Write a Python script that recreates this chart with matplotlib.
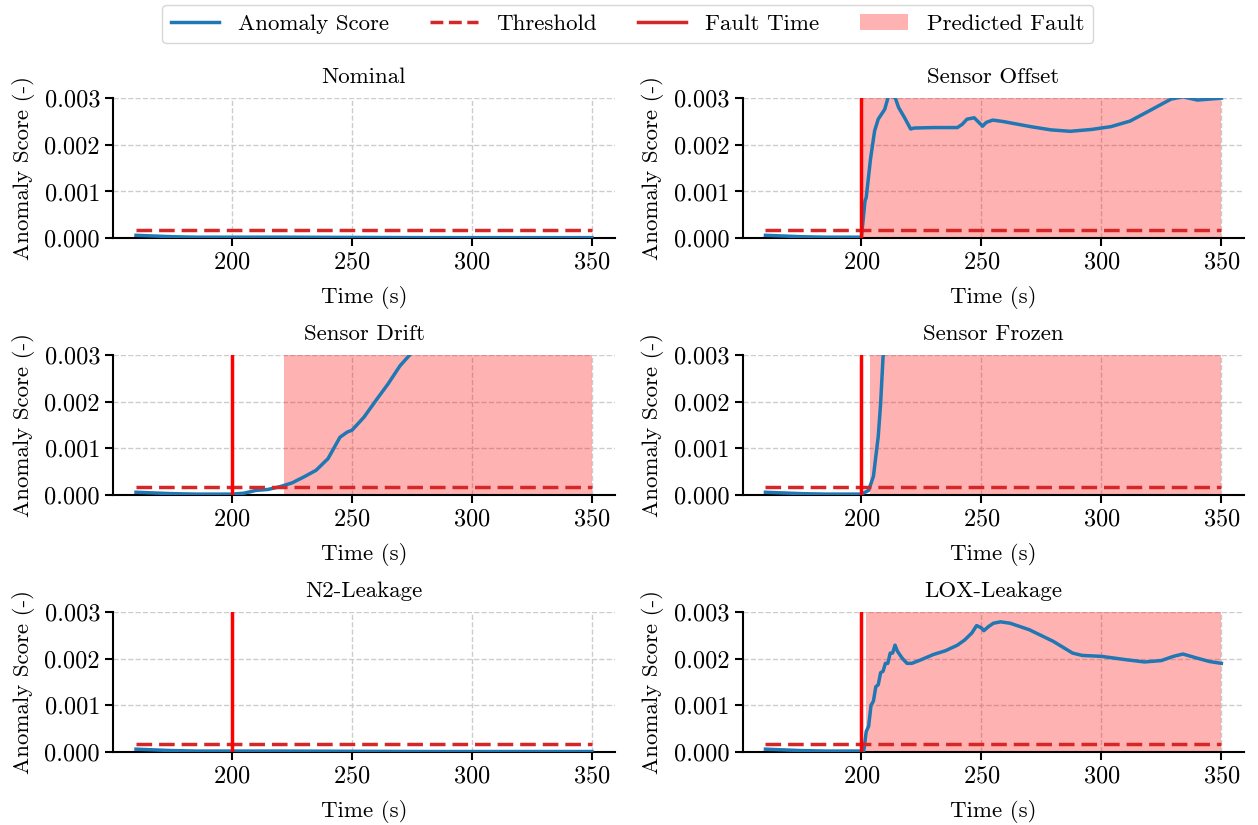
import matplotlib
matplotlib.use("Agg")
import matplotlib.pyplot as plt
from matplotlib.lines import Line2D
from matplotlib.patches import Patch

plt.rcParams["font.family"] = "serif"
plt.rcParams["font.serif"] = ["cmr10", "DejaVu Serif"]
plt.rcParams["mathtext.fontset"] = "cm"
plt.rcParams["axes.formatter.use_mathtext"] = True
plt.rcParams["font.size"] = 16.5

THRESHOLD = 0.00017
FAULT_TIME = 200
END_TIME = 350

# pre-fault part shared by all runs
pre_t = [160, 165, 170, 175, 180, 185, 190, 195, 200]
pre_s = [0.00006, 0.00005, 0.00004, 0.00003, 0.000025, 0.00002, 0.00002, 0.00002, 0.00002]

nominal_t = pre_t + [220, 250, 280, 310, 350]
nominal_s = pre_s + [0.00002, 0.000015, 0.00001, 0.00001, 0.00001]

offset_t = pre_t + [201.5, 202, 203.8, 205.5, 207, 209.7, 211.3, 214, 215.5, 218,
                    220.5, 222, 230, 240, 242, 244, 247, 250.5, 252, 254.7, 259,
                    270.5, 279, 287, 296, 304, 312, 320, 329, 334, 340, 350]
offset_s = pre_s + [0.0008, 0.00087, 0.0017, 0.0023, 0.00255, 0.00276, 0.00305, 0.00302,
                    0.0028, 0.00258, 0.00234, 0.00236, 0.00237, 0.00237, 0.00244, 0.00255,
                    0.00258, 0.0024, 0.00248, 0.00253, 0.0025, 0.00239, 0.00232, 0.00229,
                    0.00233, 0.00239, 0.00251, 0.00273, 0.00298, 0.00303, 0.00296, 0.003]

drift_t = pre_t + [205, 210, 215, 220, 225, 230, 235, 240, 245, 248, 250, 255, 260,
                   265, 270, 274, 280]
drift_s = pre_s + [0.00004, 0.0001, 0.00012, 0.00018, 0.00026, 0.00039, 0.00053, 0.00078,
                   0.00124, 0.00135, 0.00139, 0.00167, 0.00203, 0.00238, 0.00277, 0.003,
                   0.0034]

frozen_t = pre_t + [203, 205, 207, 208, 209, 210]
frozen_s = pre_s + [0.0001, 0.0004, 0.00125, 0.00196, 0.00295, 0.0034]

n2_t = nominal_t
n2_s = nominal_s

lox_t = pre_t + [201, 202, 203, 204, 205, 206, 207, 208, 209, 210, 211, 212, 213, 214,
                 215, 217, 219, 221, 225, 230, 235, 240, 243, 246, 248, 250, 251, 253,
                 255, 258, 262, 270, 280, 288, 292, 300, 310, 318, 325, 330, 334, 340,
                 345, 350]
lox_s = pre_s + [0.00002, 0.00044, 0.00055, 0.001, 0.00109, 0.0014, 0.00144, 0.0017,
                 0.00173, 0.0019, 0.0019, 0.00212, 0.00212, 0.00229, 0.00216, 0.00201,
                 0.0019, 0.0019, 0.00198, 0.00209, 0.00217, 0.00229, 0.0024, 0.00255,
                 0.00271, 0.00266, 0.0026, 0.00269, 0.00276, 0.00279, 0.00276, 0.00262,
                 0.00237, 0.00212, 0.00207, 0.00205, 0.00198, 0.00193, 0.00196, 0.00205,
                 0.0021, 0.00201, 0.00194, 0.0019]

titles = ["Nominal", "Sensor Offset", "Sensor Drift", "Sensor Frozen", "N2-Leakage", "LOX-Leakage"]
times = [nominal_t, offset_t, drift_t, frozen_t, n2_t, lox_t]
scores = [nominal_s, offset_s, drift_s, frozen_s, n2_s, lox_s]
has_fault = [False, True, True, True, True, True]
predicted_start = [None, 200, 221.6, 203.7, None, 201.8]

fig, axes = plt.subplots(3, 2, figsize=(12.58, 8.25), dpi=100)
fig.subplots_adjust(left=0.09, right=0.989, top=0.881, bottom=0.0885,
                    wspace=0.255, hspace=0.836)

for ax, title, t, s, fault, pstart in zip(axes.flat, titles, times, scores,
                                           has_fault, predicted_start):
    if pstart is not None:
        ax.axvspan(pstart, END_TIME, color="red", alpha=0.3, lw=0, zorder=1)
    ax.plot(t, s, color="tab:blue", lw=2.5, zorder=3)
    ax.plot([t[0], END_TIME], [THRESHOLD, THRESHOLD], color="tab:red", ls="--",
            lw=2.5, dashes=(4.5, 2), zorder=4)
    if fault:
        ax.axvline(FAULT_TIME, color="red", lw=2.5, zorder=5)
    ax.set_ylim(0, 0.003)
    ax.set_yticks([0, 0.001, 0.002, 0.003])
    ax.set_yticklabels(["0.000", "0.001", "0.002", "0.003"])
    ax.set_xticks([200, 250, 300, 350])
    ax.grid(True, ls="--", color="#cccccc", lw=1)
    ax.set_axisbelow(True)
    ax.spines["top"].set_visible(False)
    ax.spines["right"].set_visible(False)
    ax.spines["left"].set_linewidth(1.5)
    ax.spines["bottom"].set_linewidth(1.5)
    ax.tick_params(width=1.5, length=6, labelsize=17.5)
    ax.set_title(title, fontsize=16.5, pad=11)
    ax.set_xlabel("Time (s)", labelpad=9)
    ax.set_ylabel("Anomaly Score (-)", labelpad=7)

handles = [
    Line2D([], [], color="tab:blue", lw=2.5),
    Line2D([], [], color="tab:red", lw=2.5, ls="--"),
    Line2D([], [], color="tab:red", lw=2.5),
    Patch(facecolor="red", alpha=0.3, edgecolor="none"),
]
labels = ["Anomaly Score", "Threshold", "Fault Time", "Predicted Fault"]
fig.legend(handles, labels, loc="upper center", bbox_to_anchor=(0.499, 1.008),
           ncol=4, fontsize=16.5, columnspacing=1.8, handlelength=2.1,
           handletextpad=0.8)

fig.savefig("out.png", dpi=100)
